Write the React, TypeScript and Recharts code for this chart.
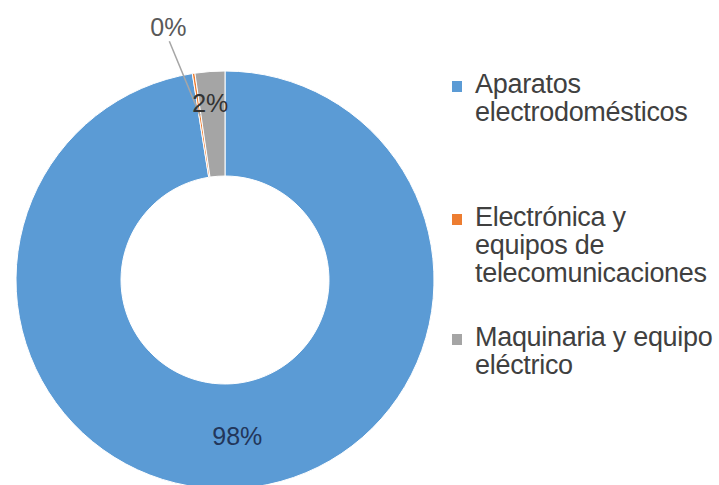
import { Cell, Legend, Pie, PieChart } from "recharts";

const categories = [
  "Aparatos electrodomésticos",
  "Electrónica y equipos de telecomunicaciones",
  "Maquinaria y equipo eléctrico",
];
const legendLines = [
  ["Aparatos", "electrodomésticos"],
  ["Electrónica y", "equipos de", "telecomunicaciones"],
  ["Maquinaria y equipo", "eléctrico"],
];
const shares = [97.5, 0.2, 2.3];
const colors = ["#5b9bd5", "#ed7d31", "#a5a5a5"];

const data = categories.map((name, i) => ({ name, value: shares[i] }));

const RAD = Math.PI / 180;
const FONT = "'Liberation Sans', Arial, sans-serif";

const SliceLabel = (props: any) => {
  const { cx, cy, midAngle, innerRadius, outerRadius, percent, index } = props;
  const text = `${Math.round(percent * 100)}%`;
  const mid = (innerRadius + outerRadius) / 2;

  if (index === 1) {
    // tiny slice: label outside with a leader line
    const ang = (midAngle + 4) * RAD;
    const lx = cx + (outerRadius + 50) * Math.cos(ang);
    const ly = cy - (outerRadius + 50) * Math.sin(ang);
    const ex = cx + (mid + 10) * Math.cos(midAngle * RAD);
    const ey = cy - (mid + 10) * Math.sin(midAngle * RAD);
    return (
      <g>
        <line x1={lx + 1} y1={ly + 14} x2={ex} y2={ey} stroke="#a6a6a6" strokeWidth={1.5} />
        <text x={lx} y={ly} fill="#595959" fontSize={25} fontFamily={FONT} textAnchor="middle" dominantBaseline="central">
          {text}
        </text>
      </g>
    );
  }

  const r = index === 2 ? outerRadius - 32 : mid;
  const x = cx + r * Math.cos(midAngle * RAD) - (index === 2 ? 2 : 0);
  const y = cy - r * Math.sin(midAngle * RAD);
  return (
    <text x={x} y={y} fill={index === 0 ? "#22365a" : "#333333"} fontSize={25} fontFamily={FONT} textAnchor="middle" dominantBaseline="central">
      {text}
    </text>
  );
};

const itemTops = [70, 203, 323];

const LegendBox = () => (
  <div style={{ position: "relative", width: 270, height: 485, fontFamily: FONT }}>
    {legendLines.map((lines, i) => (
      <div key={categories[i]} style={{ position: "absolute", left: 0, top: itemTops[i] }}>
        <div style={{ position: "absolute", left: 0, top: 11, width: 10, height: 11, background: colors[i] }} />
        <div style={{ marginLeft: 23, fontSize: 27, lineHeight: "28px", color: "#404040", letterSpacing: -0.3, whiteSpace: "nowrap" }}>
          {lines.map((l) => (
            <div key={l}>{l}</div>
          ))}
        </div>
      </div>
    ))}
  </div>
);

export default function App() {
  return (
    <div style={{ position: "absolute", left: 0, top: 0, width: 719, height: 485, background: "#fff" }}>
      <PieChart width={719} height={485} margin={{ top: 0, right: 0, bottom: 0, left: 0 }}>
        <Pie
          data={data}
          dataKey="value"
          nameKey="name"
          cx={225}
          cy={280}
          innerRadius={104}
          outerRadius={209}
          startAngle={90}
          endAngle={-270}
          stroke="#ffffff"
          strokeWidth={1}
          label={SliceLabel}
          labelLine={false}
          isAnimationActive={false}
        >
          {data.map((d, i) => (
            <Cell key={d.name} fill={colors[i]} />
          ))}
        </Pie>
        <Legend
          layout="vertical"
          align="right"
          verticalAlign="top"
          wrapperStyle={{ left: 452, top: 0 }}
          content={() => <LegendBox />}
        />
      </PieChart>
    </div>
  );
}
